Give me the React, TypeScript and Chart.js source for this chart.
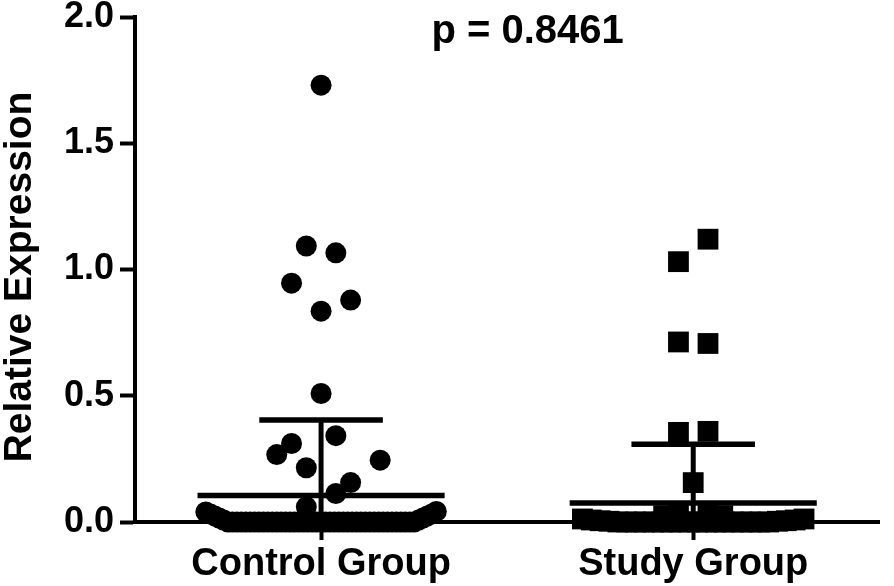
import { useEffect, useRef } from "react";
import { Chart, registerables } from "chart.js";

Chart.register(...registerables);

const FONT = '"Liberation Sans", Arial, Helvetica, sans-serif';

const categories = ["Control Group", "Study Group"];
const yTicks = [0, 0.5, 1.0, 1.5, 2.0];
const yTitle = "Relative Expression";

// Relative expression values
const controlValues = [
  1.73, 1.093, 1.066, 0.946, 0.879, 0.835, 0.509, 0.342, 0.311, 0.267, 0.245, 0.215, 0.156, 0.113, 0.06,
  0.04, 0.032, 0.024, 0.016, 0.008,
  0, 0, 0, 0, 0, 0, 0, 0, 0, 0, 0, 0, 0, 0, 0, 0, 0, 0, 0, 0, 0, 0,
  0, 0, 0, 0, 0, 0, 0, 0, 0, 0, 0, 0, 0, 0, 0, 0, 0, 0, 0, 0, 0,
  0.008, 0.016, 0.024, 0.032, 0.042,
];
// horizontal scatter offsets (in jitter steps) as laid out in the reference
const controlJitter = [
  0, -1, 1, -2, 2, 0, 0, 1, -2, -3, 4, -1, 2, 1, -1,
  -7.8, -7.5, -7.2, -6.9, -6.6,
  -6.3, -6.0, -5.7, -5.4, -5.1, -4.8, -4.5, -4.2, -3.9, -3.6, -3.3, -3.0, -2.7, -2.4, -2.1, -1.8, -1.5, -1.2, -0.9, -0.6, -0.3, 0,
  0.3, 0.6, 0.9, 1.2, 1.5, 1.8, 2.1, 2.4, 2.7, 3.0, 3.3, 3.6, 3.9, 4.2, 4.5, 4.8, 5.1, 5.4, 5.7, 6.0, 6.3,
  6.6, 6.9, 7.2, 7.5, 7.8,
];

const studyValues = [
  1.12, 1.031, 0.713, 0.707, 0.359, 0.355, 0.156, 0.025, 0.027, 0.027, 0.025,
  0.012, 0.008, 0.005, 0.003, 0, 0, 0, 0, 0, 0, 0, 0, 0, 0, 0, 0, 0, 0, 0, 0, 0, 0, 0.003, 0.005, 0.008, 0.012,
];
const studyJitter = [
  1, -1, -1, 1, 1, -1, 0, -2, -1, 1, 2,
  -7.5, -6.9, -6.3, -5.7, -5.1, -4.5, -3.9, -3.3, -2.7, -2.1, -1.5, -0.9, -0.3, 0.3, 0.9, 1.5, 2.1, 2.7, 3.3,
  3.9, 4.5, 5.1, 5.7, 6.3, 6.9, 7.5,
];

const groupMeans = [0.105, 0.075];
const groupSDs = [0.299, 0.233];
const pValueText = "p = 0.8461";

const JITTER_STEP = 0.0397;
const MEAN_HALF = 0.332;
const SD_HALF = 0.166;
const P_LABEL_X = 1.555;

const textPlugin = {
  id: "extraText",
  afterDraw(chart: any) {
    const { ctx } = chart;
    const x = chart.scales.x;
    ctx.save();
    ctx.fillStyle = "#000";
    ctx.font = `bold 40px ${FONT}`;
    ctx.textAlign = "center";
    ctx.textBaseline = "alphabetic";
    ctx.fillText(pValueText, x.getPixelForValue(P_LABEL_X), 43);
    ctx.restore();

    ctx.save();
    ctx.fillStyle = "#000";
    ctx.font = `bold 39px ${FONT}`;
    ctx.translate(20, 277);
    ctx.rotate(-Math.PI / 2);
    ctx.textAlign = "center";
    ctx.textBaseline = "middle";
    ctx.fillText(yTitle, 0, 0);
    ctx.restore();
  },
};

function lineDs(points: { x: number; y: number }[], width: number) {
  return {
    type: "line" as const,
    data: points,
    showLine: true,
    borderColor: "#000",
    borderWidth: width,
    borderCapStyle: "butt" as const,
    pointRadius: 0,
    fill: false,
    clip: false as const,
    tension: 0,
  };
}

export default function App() {
  const ref = useRef<HTMLCanvasElement | null>(null);

  useEffect(() => {
    if (!ref.current) return;
    Chart.defaults.font.family = FONT;
    Chart.defaults.color = "#000";

    const controlPts = controlValues.map((v, i) => ({ x: 1 + controlJitter[i] * JITTER_STEP, y: v }));
    const studyPts = studyValues.map((v, i) => ({ x: 2 + studyJitter[i] * JITTER_STEP, y: v }));

    const errorSets: any[] = [];
    groupMeans.forEach((m, i) => {
      const c = i + 1;
      const hi = m + groupSDs[i];
      const lo = Math.max(0, m - groupSDs[i]);
      errorSets.push(lineDs([{ x: c - MEAN_HALF, y: m }, { x: c + MEAN_HALF, y: m }], 5.5));
      errorSets.push(lineDs([{ x: c - SD_HALF, y: hi }, { x: c + SD_HALF, y: hi }], 5.5));
      errorSets.push(lineDs([{ x: c, y: lo }, { x: c, y: hi }], 5));
    });

    const chart = new Chart(ref.current, {
      type: "scatter",
      data: {
        datasets: [
          {
            label: categories[0],
            data: controlPts,
            pointStyle: "circle",
            pointRadius: 10.5,
            pointBackgroundColor: "#000",
            pointBorderWidth: 0,
            clip: false,
          } as any,
          {
            label: categories[1],
            data: studyPts,
            pointStyle: "rect",
            pointRadius: 14.7,
            pointBackgroundColor: "#000",
            pointBorderWidth: 0,
            clip: false,
          } as any,
          ...errorSets,
        ],
      },
      options: {
        animation: false,
        responsive: false,
        events: [],
        layout: { padding: { top: 17, right: 4, left: 0, bottom: 0 } },
        plugins: { legend: { display: false }, tooltip: { enabled: false } },
        scales: {
          x: {
            type: "linear",
            min: 0.5,
            max: 2.5,
            afterFit: (s: any) => {
              s.height = 64;
            },
            afterBuildTicks: (s: any) => {
              s.ticks = categories.map((_, i) => ({ value: i + 1 }));
            },
            ticks: {
              callback: (v: any) => categories[Math.round(v) - 1] ?? "",
              font: { size: 38, weight: "bold", lineHeight: 1 },
              color: "#000",
              padding: 6,
              maxRotation: 0,
              autoSkip: false,
            },
            grid: {
              display: true,
              drawOnChartArea: false,
              drawTicks: true,
              tickLength: 18,
              tickWidth: 4,
              tickColor: "#000",
            },
            border: { display: true, color: "#000", width: 4 },
          },
          y: {
            type: "linear",
            min: 0,
            max: 2,
            afterFit: (s: any) => {
              s.width = 135;
            },
            afterBuildTicks: (s: any) => {
              s.ticks = yTicks.map((v) => ({ value: v }));
            },
            ticks: {
              callback: (v: any) => Number(v).toFixed(1),
              font: { size: 36, weight: "bold", lineHeight: 0.5 },
              color: "#000",
              padding: 6,
            },
            grid: {
              display: true,
              drawOnChartArea: false,
              drawTicks: true,
              tickLength: 15,
              tickWidth: 4,
              tickColor: "#000",
            },
            border: { display: true, color: "#000", width: 4 },
            title: { display: false },
          },
        },
      } as any,
      plugins: [textPlugin],
    });
    return () => chart.destroy();
  }, []);

  return (
    <div style={{ position: "absolute", left: 0, top: 0, width: 894, height: 586, background: "#fff" }}>
      <canvas ref={ref} width={894} height={586} style={{ display: "block" }} />
    </div>
  );
}
